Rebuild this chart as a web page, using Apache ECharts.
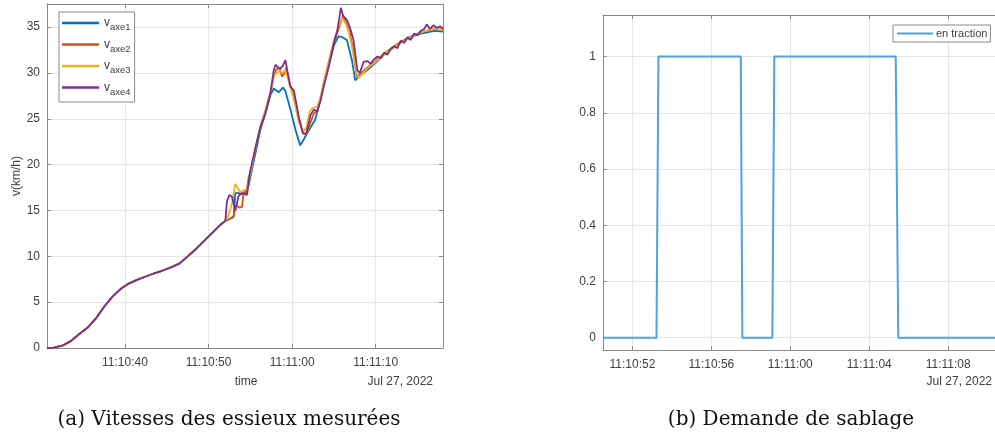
<!DOCTYPE html>
<html><head><meta charset="utf-8">
<script src="https://cdn.jsdelivr.net/npm/echarts@6/dist/echarts.min.js"></script>
<style>html,body{margin:0;padding:0;background:#fff}#c{width:995px;height:436px}</style>
</head><body><div id="c"></div>
<script>
// time in seconds after 11:10:00 (Jul 27, 2022)
const baseT = [30.67, 31.5, 32.5, 33.5, 34.5, 35.5, 36.5, 37.5, 38.5, 39.5, 40.5, 41.5, 42.5, 43.5, 44.5, 45.5, 46.5, 47.5, 48.5, 49.5, 50.5, 51.5, 52.0];
const baseV = [0, 0.05, 0.25, 0.75, 1.5, 2.2, 3.2, 4.5, 5.6, 6.45, 7.05, 7.45, 7.8, 8.15, 8.45, 8.8, 9.2, 10.0, 10.8, 11.7, 12.6, 13.5, 13.85];

const blueT = [52.6, 53.0, 53.2, 53.6, 54.0, 54.4, 54.8, 55.2, 55.6, 56.2, 56.8, 57.4, 57.8, 58.4, 58.9, 59.2, 59.8, 60.4, 60.96, 61.3, 61.76, 62.3, 62.76, 63.35, 63.9, 64.55, 65.0, 65.55, 66.0, 66.55, 67.15, 67.55, 68.0, 68.95, 70.0, 71.0, 72.0, 73.0, 74.0, 75.0, 76.0, 77.0, 78.05];
const blueV = [14.1, 14.3, 16.9, 16.9, 16.8, 17.0, 17.8, 19.5, 21.2, 23.8, 25.6, 27.6, 28.3, 27.9, 28.4, 28.0, 26.0, 23.8, 22.1, 22.6, 23.4, 24.2, 24.9, 27.0, 29.2, 31.4, 33.0, 34.0, 33.9, 33.6, 31.4, 29.2, 29.6, 30.3, 31.1, 32.0, 32.7, 33.3, 33.8, 34.2, 34.4, 34.6, 34.5];

const orangeT = [52.6, 53.0, 53.3, 53.7, 54.0, 54.2, 54.5, 54.8, 55.2, 55.6, 56.2, 56.8, 57.4, 57.8, 58.1, 58.5, 58.8, 59.1, 59.3, 59.7, 60.2, 60.8, 61.3, 61.7, 62.2, 62.6, 63.0, 63.4, 63.8, 64.2, 64.6, 65.0, 65.5, 66.1, 66.5, 66.9, 67.3, 67.75, 68.5, 69.0, 70.0, 71.0, 72.0, 73.0, 74.0, 75.0, 76.0, 77.0, 78.05];
const orangeV = [14.1, 14.4, 15.6, 15.3, 15.4, 17.0, 16.8, 18.6, 19.8, 21.7, 24.0, 25.8, 27.8, 29.6, 30.4, 30.5, 29.6, 30.0, 30.6, 28.8, 27.5, 25.0, 23.4, 23.3, 24.6, 25.6, 25.8, 27.2, 28.9, 30.5, 32.0, 33.4, 34.6, 36.3, 35.4, 34.4, 32.5, 29.6, 30.2, 30.6, 31.3, 32.1, 32.8, 33.4, 33.9, 34.3, 34.6, 34.8, 34.7];

const yellowT = [52.4, 52.8, 53.2, 53.4, 53.8, 54.2, 54.6, 55.0, 55.6, 56.2, 56.8, 57.4, 57.8, 58.1, 58.5, 58.9, 59.2, 59.6, 60.2, 60.8, 61.3, 61.7, 62.1, 62.5, 63.0, 63.4, 63.8, 64.2, 64.6, 65.0, 65.5, 66.0, 66.4, 66.8, 67.2, 67.7, 68.0, 68.5, 69.0, 70.0, 71.0, 72.0, 73.0, 74.0, 75.0, 76.0, 77.0, 78.05];
const yellowV = [14.5, 15.8, 17.9, 18.0, 17.0, 17.2, 17.3, 19.0, 21.8, 24.2, 26.0, 28.0, 29.6, 30.0, 30.2, 30.0, 30.4, 29.0, 27.2, 24.6, 23.6, 24.0, 25.8, 26.2, 26.3, 27.4, 29.0, 30.6, 32.1, 33.5, 34.9, 36.0, 35.4, 34.4, 32.6, 30.0, 29.5, 30.0, 30.5, 31.2, 32.0, 32.7, 33.3, 33.8, 34.3, 34.6, 34.8, 34.7];

const purpleT = [52.2, 52.5, 52.8, 53.2, 53.6, 54.0, 54.6, 55.0, 55.6, 56.2, 56.8, 57.4, 57.8, 58.0, 58.3, 58.6, 58.9, 59.2, 59.4, 59.8, 60.2, 60.8, 61.3, 61.7, 62.2, 62.6, 63.0, 63.4, 63.8, 64.2, 64.6, 65.0, 65.4, 65.83, 66.1, 66.55, 66.9, 67.34, 67.8, 68.1, 68.54, 69.0, 69.4, 69.8, 70.2, 70.6, 71.0, 71.4, 71.8, 72.2, 72.6, 73.0, 73.4, 73.8, 74.2, 74.6, 75.0, 75.4, 75.8, 76.1, 76.5, 76.9, 77.3, 77.7, 78.05];
const purpleV = [16.0, 16.7, 16.5, 15.0, 16.6, 16.9, 16.7, 19.4, 21.8, 24.1, 25.6, 27.8, 30.3, 30.9, 30.6, 30.5, 30.8, 31.4, 30.3, 28.5, 28.1, 25.2, 23.4, 23.4, 25.4, 26.0, 25.8, 27.0, 28.6, 30.0, 31.6, 33.3, 34.6, 37.1, 36.2, 35.8, 35.0, 33.6, 30.3, 30.0, 31.2, 31.3, 31.0, 31.5, 31.8, 31.6, 32.2, 32.0, 32.6, 32.9, 32.7, 33.5, 33.3, 33.9, 33.6, 34.3, 34.1, 34.6, 34.8, 35.3, 34.8, 35.2, 34.9, 35.1, 34.8];

const seriesNames = ['vaxe1', 'vaxe2', 'vaxe3', 'vaxe4'];
const leftXTicks = [40, 50, 60, 70];
const leftYTicks = [0, 5, 10, 15, 20, 25, 30, 35];

const sandT = [50.51, 53.22, 53.32, 57.49, 57.57, 59.09, 59.19, 65.34, 65.47, 70.37];
const sandV = [0, 0, 1, 1, 0, 0, 1, 1, 0, 0];
const rightXTicks = [52, 56, 60, 64, 68];
const rightYTicks = [0, 0.2, 0.4, 0.6, 0.8, 1];

function pairs(t, v) { return t.map((x, i) => [x, v[i]]); }
function withBase(t, v) { return pairs(baseT, baseV).concat(pairs(t, v)); }
function fmtTime(s) {
  const tot = 11 * 3600 + 10 * 60 + Math.round(s);
  const h = Math.floor(tot / 3600), m = Math.floor((tot % 3600) / 60), sec = tot % 60;
  const p = n => (n < 10 ? '0' : '') + n;
  return p(h) + ':' + p(m) + ':' + p(sec);
}

const axisCol = '#8a8a8a', txtCol = '#404040', gridCol = '#e6e6e6';
const FONT = 'Liberation Sans';
const colors = ['#0072BD', '#D95319', '#EDB120', '#7E2F8E'];

function xAx(grid, min, max, ticks, pos, labels) {
  return {
    type: 'value', gridIndex: grid, min: min, max: max, position: pos,
    axisLine: { show: true, onZero: false, lineStyle: { color: axisCol, width: 1 } },
    axisTick: { show: true, inside: true, length: 4, customValues: ticks, lineStyle: { color: axisCol } },
    axisLabel: { show: labels, customValues: ticks, formatter: fmtTime, color: txtCol, fontFamily: FONT, fontSize: 12, margin: 9 },
    splitLine: { show: labels, lineStyle: { color: gridCol, width: 1 } }
  };
}
function yAx(grid, min, max, ticks, pos, labels, extra) {
  return Object.assign({
    type: 'value', gridIndex: grid, min: min, max: max, position: pos,
    axisLine: { show: true, onZero: false, lineStyle: { color: axisCol, width: 1 } },
    axisTick: { show: true, inside: true, length: 4, customValues: ticks, lineStyle: { color: axisCol } },
    axisLabel: { show: labels, customValues: ticks, color: txtCol, fontFamily: FONT, fontSize: 12, margin: 7 },
    splitLine: { show: labels, lineStyle: { color: gridCol, width: 1 } }
  }, extra || {});
}

const chart = echarts.init(document.getElementById('c'), null, { renderer: 'canvas' });
const leftData = [withBase(blueT, blueV), withBase(orangeT, orangeV), withBase(yellowT, yellowV), withBase(purpleT, purpleV)];

chart.setOption({
  animation: false,
  backgroundColor: '#fff',
  grid: [
    { left: 47, top: 4, width: 396, height: 344 },
    { left: 603, top: 15, width: 400, height: 335 }
  ],
  xAxis: [
    xAx(0, 30.67, 78.05, leftXTicks, 'bottom', true),
    xAx(0, 30.67, 78.05, leftXTicks, 'top', false),
    xAx(1, 50.51, 70.37, rightXTicks, 'bottom', true),
    xAx(1, 50.51, 70.37, rightXTicks, 'top', false)
  ],
  yAxis: [
    yAx(0, 0, 37.52, leftYTicks, 'left', true, { name: 'v(km/h)', nameLocation: 'middle', nameGap: 24, nameTextStyle: { color: txtCol, fontFamily: FONT, fontSize: 12 } }),
    yAx(0, 0, 37.52, leftYTicks, 'right', false),
    yAx(1, -0.044, 1.148, rightYTicks, 'left', true)
  ],
  legend: [
    {
      data: seriesNames, orient: 'vertical', left: 59, top: 12,
      icon: 'rect', itemWidth: 37, itemHeight: 2.5, itemGap: 6,
      padding: [5, 4, 5, 3],
      backgroundColor: '#fff', borderColor: '#888', borderWidth: 1,
      formatter: n => '{v|v}{s|' + n.slice(1) + '}',
      textStyle: {
        color: txtCol, fontFamily: FONT,
        rich: { v: { fontSize: 12, color: txtCol, fontFamily: FONT }, s: { fontSize: 9.5, color: txtCol, fontFamily: FONT, padding: [9, 0, 0, 0] } }
      }
    },
    {
      data: ['en traction'], left: 893, top: 25, icon: 'rect', itemWidth: 36, itemHeight: 2,
      padding: [3, 3, 3, 4], itemGap: 3,
      backgroundColor: '#fff', borderColor: '#888', borderWidth: 1,
      textStyle: { color: txtCol, fontFamily: FONT, fontSize: 11, padding: [0, 0, 0, -2] }
    }
  ],
  series: seriesNames.map((n, i) => ({
    name: n, type: 'line', xAxisIndex: 0, yAxisIndex: 0, data: leftData[i],
    showSymbol: false, symbol: 'none', color: colors[i],
    lineStyle: { width: 1.8, color: colors[i] }
  })).concat([{
    name: 'en traction', type: 'line', xAxisIndex: 2, yAxisIndex: 2,
    data: pairs(sandT, sandV), showSymbol: false, symbol: 'none', color: '#4DA3DF',
    lineStyle: { width: 2, color: '#4DA3DF' }
  }]),
  graphic: [
    { type: 'text', x: 246, y: 382, style: { text: 'time', align: 'center', verticalAlign: 'middle', fill: txtCol, font: '12px "Liberation Sans"' } },
    { type: 'text', x: 433, y: 382, style: { text: 'Jul 27, 2022', align: 'right', verticalAlign: 'middle', fill: txtCol, font: '12px "Liberation Sans"' } },
    { type: 'text', x: 992, y: 382, style: { text: 'Jul 27, 2022', align: 'right', verticalAlign: 'middle', fill: txtCol, font: '12px "Liberation Sans"' } },
    { type: 'text', x: 229, y: 420, style: { text: '(a) Vitesses des essieux mesurées', align: 'center', verticalAlign: 'middle', fill: '#111', font: '20px "DejaVu Serif"' } },
    { type: 'text', x: 791, y: 420, style: { text: '(b) Demande de sablage', align: 'center', verticalAlign: 'middle', fill: '#111', font: '20px "DejaVu Serif"' } }
  ]
});
</script></body></html>
